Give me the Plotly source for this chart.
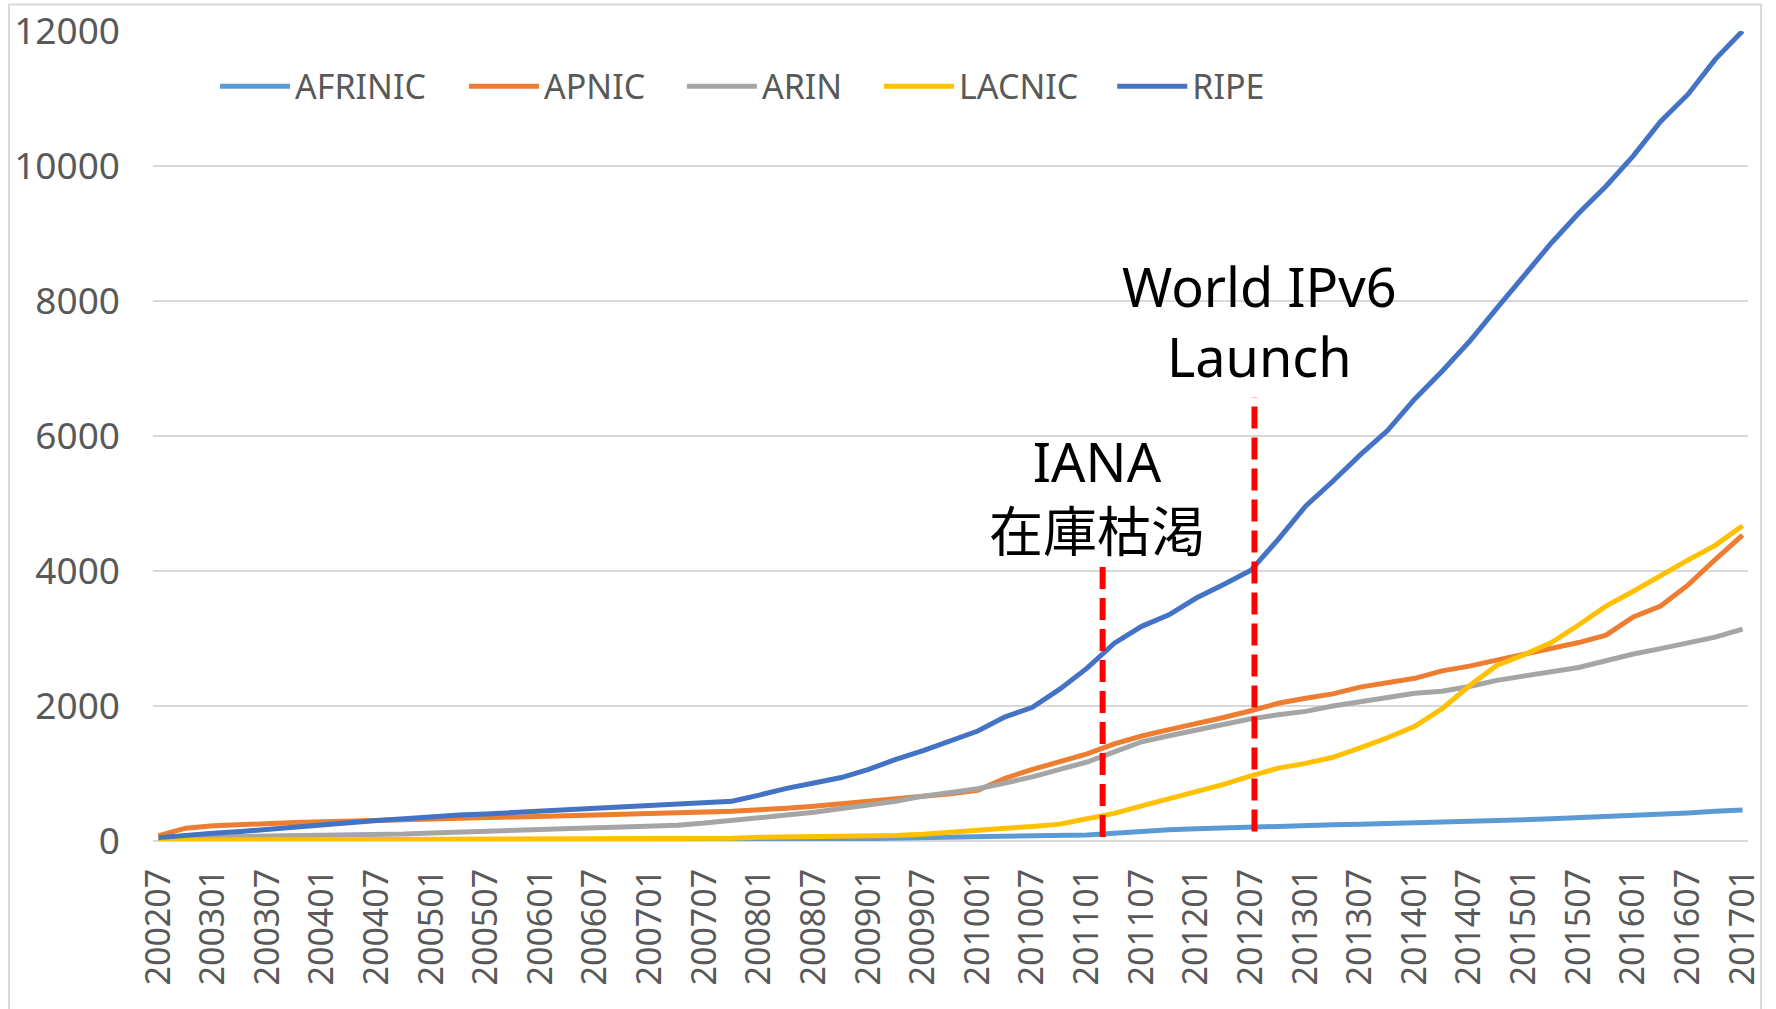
import plotly.graph_objects as go

# quarterly sample months (category labels)
MONTHS = [
    "200207", "200210", "200301", "200304", "200307", "200310", "200401", "200404", "200407", "200410",
    "200501", "200504", "200507", "200510", "200601", "200604", "200607", "200610", "200701", "200704",
    "200707", "200710", "200801", "200804", "200807", "200810", "200901", "200904", "200907", "200910",
    "201001", "201004", "201007", "201010", "201101", "201104", "201107", "201110", "201201", "201204",
    "201207", "201210", "201301", "201304", "201307", "201310", "201401", "201404", "201407", "201410",
    "201501", "201504", "201507", "201510", "201601", "201604", "201607", "201610", "201701",
]

AFRINIC = [
    0, 0, 0, 0, 0, 1, 1, 1, 2, 2,
    2, 3, 3, 3, 4, 4, 5, 5, 6, 6,
    7, 8, 12, 18, 22, 28, 35, 42, 48, 55,
    62, 68, 75, 80, 90, 115, 145, 165, 180, 195,
    205, 215, 230, 240, 250, 258, 270, 280, 290, 300,
    315, 330, 345, 360, 375, 395, 415, 440, 460,
]
APNIC = [
    80, 190, 225, 245, 260, 275, 285, 300, 305, 315,
    325, 332, 340, 350, 365, 378, 385, 395, 402, 415,
    430, 442, 458, 485, 515, 550, 590, 635, 665, 700,
    750, 930, 1060, 1170, 1290, 1440, 1555, 1650, 1735, 1830,
    1930, 2040, 2115, 2180, 2280, 2340, 2410, 2520, 2590, 2680,
    2770, 2850, 2940, 3050, 3320, 3480, 3790, 4170, 4530,
]
ARIN = [
    10, 40, 60, 68, 72, 76, 80, 82, 90, 102,
    120, 135, 150, 165, 178, 190, 198, 206, 215, 235,
    265, 300, 340, 385, 425, 475, 530, 590, 665, 720,
    775, 860, 950, 1060, 1170, 1320, 1470, 1560, 1640, 1730,
    1810, 1870, 1920, 2000, 2060, 2130, 2190, 2220, 2290, 2380,
    2440, 2500, 2570, 2670, 2770, 2850, 2930, 3020, 3140,
]
LACNIC = [
    10, 15, 17, 18, 19, 20, 20, 21, 22, 23,
    24, 25, 26, 28, 30, 32, 33, 34, 35, 36,
    38, 40, 55, 57, 58, 70, 80, 82, 100, 135,
    165, 190, 215, 250, 330, 410, 520, 625, 740, 840,
    965, 1080, 1150, 1240, 1380, 1530, 1700, 1960, 2300, 2600,
    2760, 2940, 3200, 3480, 3700, 3940, 4160, 4380, 4670,
]
RIPE = [
    50, 90, 115, 140, 175, 210, 245, 280, 305, 330,
    360, 385, 400, 420, 445, 460, 480, 500, 520, 540,
    560, 590, 680, 780, 860, 940, 1060, 1210, 1340, 1490,
    1630, 1840, 1980, 2250, 2560, 2930, 3180, 3350, 3600, 3800,
    4010, 4470, 4960, 5330, 5720, 6080, 6550, 6960, 7400, 7890,
    8370, 8860, 9300, 9700, 10150, 10660, 11060, 11580, 12000,
]

TICK_LABELS = [
    "200207", "200301", "200307", "200401", "200407", "200501", "200507", "200601", "200607", "200701",
    "200707", "200801", "200807", "200901", "200907", "201001", "201007", "201101", "201107", "201201",
    "201207", "201301", "201307", "201401", "201407", "201501", "201507", "201601", "201607", "201701",
]

SERIES_NAMES = ["AFRINIC", "APNIC", "ARIN", "LACNIC", "RIPE"]
SERIES_VALUES = [AFRINIC, APNIC, ARIN, LACNIC, RIPE]
SERIES_COLORS = ["#5B9BD5", "#ED7D31", "#A5A5A5", "#FFC000", "#4472C4"]
LEGEND_X = [0.0389, 0.1950, 0.3316, 0.4552, 0.6014]

# event markers
EVENT_X = [34.57, 40.13]
EVENT_TOP = [4071, 6575]
EVENT_BOTTOM = [60, 140]
EVENT_TEXT_X = [34.37, 40.3]
EVENT_TEXT = ["IANA<br>在庫枯渇", "World IPv6<br>Launch"]
EVENT_TEXT_Y = [5113, 7706]

FONT = "Noto Sans, Noto Sans CJK JP, sans-serif"
GRAY = "#595959"

fig = go.Figure()
legend_layout = {}
for i, (name, vals, color) in enumerate(zip(SERIES_NAMES, SERIES_VALUES, SERIES_COLORS)):
    key = "legend" if i == 0 else f"legend{i + 1}"
    fig.add_trace(go.Scatter(
        x=MONTHS, y=vals, name=name, mode="lines",
        line=dict(color=color, width=5),
        legend=key,
    ))
    legend_layout[key] = dict(
        orientation="h", x=LEGEND_X[i], y=0.9314, xanchor="left", yanchor="middle",
        font=dict(family=FONT, size=34, color=GRAY),
        bgcolor="rgba(0,0,0,0)", itemwidth=70,
    )

for i in range(len(EVENT_X)):
    fig.add_shape(type="line", xref="x", yref="y",
                  x0=EVENT_X[i], x1=EVENT_X[i], y0=EVENT_BOTTOM[i], y1=EVENT_TOP[i],
                  line=dict(color="#FF0000", width=6, dash="22px,9px"))
    fig.add_annotation(x=EVENT_TEXT_X[i], y=EVENT_TEXT_Y[i], xref="x", yref="y",
                       text=EVENT_TEXT[i], showarrow=False, xanchor="center",
                       yanchor="middle", align="center",
                       font=dict(family=FONT, size=54, color="#000000"))

# chart border (left, top, right)
fig.add_shape(type="path", xref="paper", yref="paper",
              path="M -0.0903,-0.21 L -0.0903,1.0328 L 1.0082,1.0328 L 1.0082,-0.21",
              line=dict(color="#D9D9D9", width=2))

fig.update_layout(
    width=1776, height=1009,
    margin=dict(l=153, r=28, t=31, b=168),
    paper_bgcolor="white", plot_bgcolor="white",
    font=dict(family=FONT, color=GRAY, size=34),
    showlegend=True,
    xaxis=dict(type="category", range=[-0.2, 58.2], tickmode="array",
               tickvals=TICK_LABELS, ticktext=TICK_LABELS, tickangle=-90,
               showgrid=False, showline=False, zeroline=False, ticks="",
               ticklabelstandoff=20, automargin=False,
               tickfont=dict(family=FONT, size=34, color=GRAY)),
    yaxis=dict(range=[0, 12000], dtick=2000, tick0=0, tickformat="d", showgrid=True,
               gridcolor="#D9D9D9", gridwidth=2, zeroline=True,
               zerolinecolor="#D9D9D9", zerolinewidth=2, showline=False,
               ticks="", ticklabelstandoff=32, automargin=False,
               tickfont=dict(family=FONT, size=37, color=GRAY)),
    **legend_layout,
)

fig.write_html("out.html", include_plotlyjs=True, full_html=True,
               config={"displayModeBar": False},
               post_script="document.body.style.margin='0';document.body.style.overflow='hidden';")
